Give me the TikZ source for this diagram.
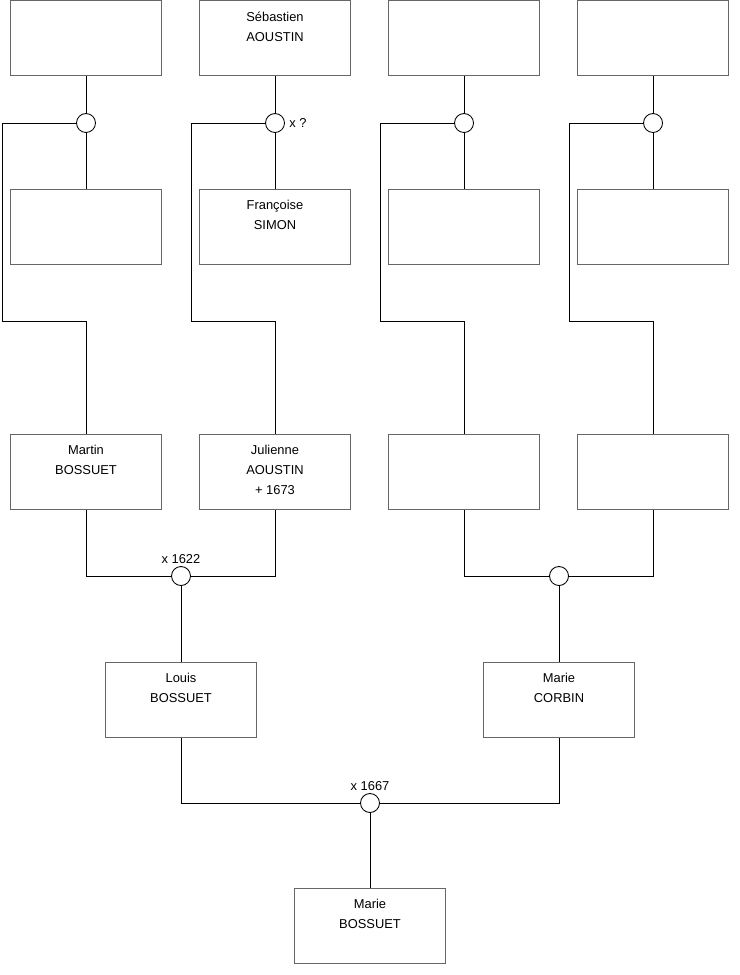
\documentclass[tikz,border=0pt]{standalone}
\usepackage{fontspec}
\setmainfont{Liberation Sans}

\begin{document}
\begin{tikzpicture}[
    x=0.03cm, y=-0.03cm,
    font=\fontsize{11}{17}\selectfont, line width=0.75pt,
    pers/.style={draw=black!60,fill=white,minimum width=4.53cm,minimum height=2.25cm,inner sep=0pt},
    who/.style={anchor=north,align=center,inner sep=0pt,execute at begin node=\strut},
    wed/.style={draw,circle,fill=white,minimum size=0.57cm,inner sep=0pt},
    every label/.style={inner sep=1.5pt},
    label distance=-9.5pt
]
\path[use as bounding box] (0,0) rectangle (740,975);

% grandparents, top and second rows
\node[pers] (f1) at (86,38) {};
\node[pers,label={[who]north:Sébastien\\AOUSTIN}] (sebastien) at (275,38) {};
\node[pers] (f3) at (464,38) {};
\node[pers] (f4) at (653,38) {};
\node[pers] (m1) at (86,227) {};
\node[pers,label={[who]north:Françoise\\SIMON}] (francoise) at (275,227) {};
\node[pers] (m3) at (464,227) {};
\node[pers] (m4) at (653,227) {};

\node[wed] (u1) at (86,123) {};
\node[wed,label={[label distance=2pt]right:x ?}] (u2) at (275,123) {};
\node[wed] (u3) at (464,123) {};
\node[wed] (u4) at (653,123) {};
\foreach \i/\f/\m in {1/f1/m1,2/sebastien/francoise,3/f3/m3,4/f4/m4}{
  \draw (\f.south) -- (u\i.north);
  \draw (u\i.south) -- (\m.north);
}

% parents
\node[pers,label={[who]north:Martin\\BOSSUET}] (martin) at (86,472) {};
\node[pers,label={[who]north:Julienne\\AOUSTIN\\+ 1673}] (julienne) at (275,472) {};
\node[pers] (p3) at (464,472) {};
\node[pers] (p4) at (653,472) {};
\coordinate (b1) at (2,321);
\coordinate (b2) at (191,321);
\coordinate (b3) at (380,321);
\coordinate (b4) at (569,321);
\draw (u1.west) -| (b1) -| (martin.north);
\draw (u2.west) -| (b2) -| (julienne.north);
\draw (u3.west) -| (b3) -| (p3.north);
\draw (u4.west) -| (b4) -| (p4.north);

\node[wed,label={[label distance=0pt]above:x 1622}] (u5) at (181,576) {};
\node[wed] (u6) at (559,576) {};
\draw (martin.south) |- (u5.west);
\draw (julienne.south) |- (u5.east);
\draw (p3.south) |- (u6.west);
\draw (p4.south) |- (u6.east);

\node[pers,label={[who]north:Louis\\BOSSUET}] (louis) at (181,700) {};
\node[pers,label={[who]north:Marie\\CORBIN}] (mariec) at (559,700) {};
\draw (u5.south) -- (louis.north);
\draw (u6.south) -- (mariec.north);

% child
\node[wed,label={[label distance=0pt]above:x 1667}] (u7) at (370,803) {};
\draw (louis.south) |- (u7.west);
\draw (mariec.south) |- (u7.east);
\node[pers,label={[who]north:Marie\\BOSSUET}] (marieb) at (370,926) {};
\draw (u7.south) -- (marieb.north);
\end{tikzpicture}
\end{document}
